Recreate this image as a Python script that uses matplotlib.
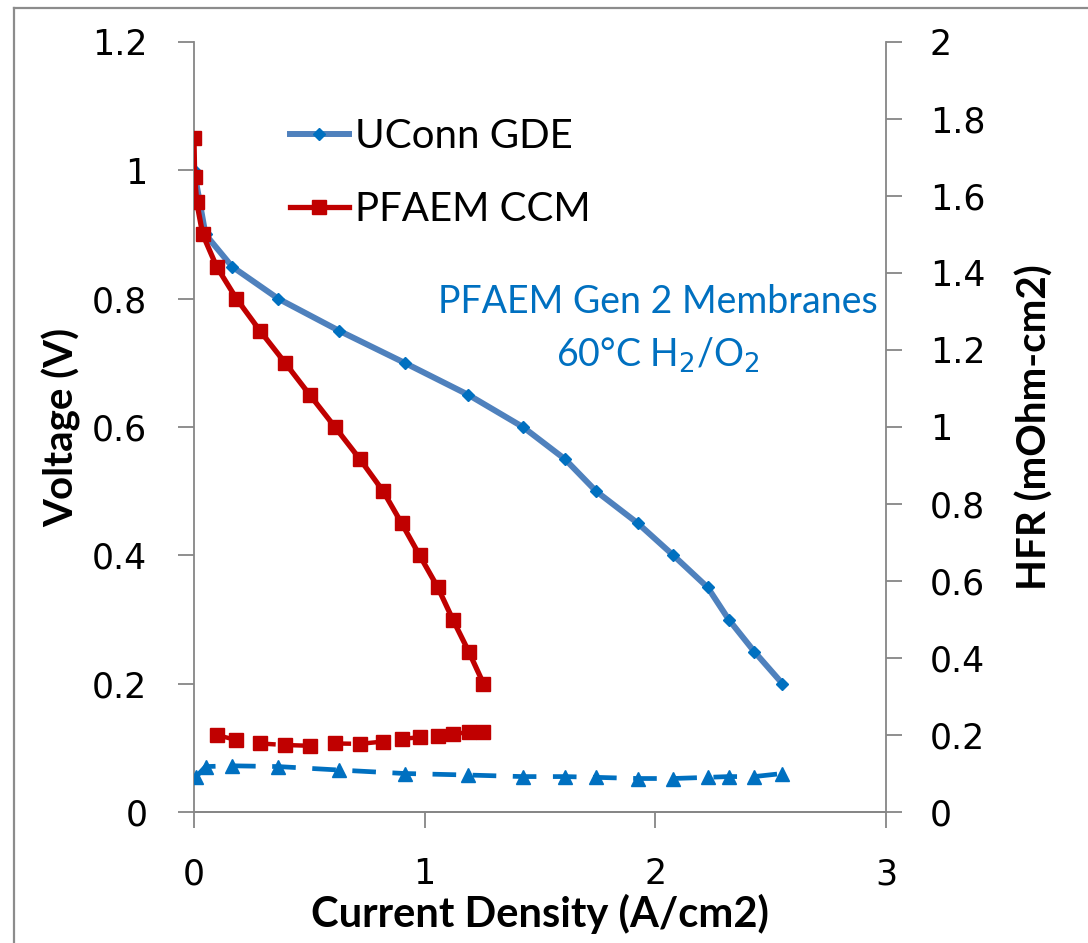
import matplotlib.pyplot as plt
from matplotlib.lines import Line2D

plt.rcParams['font.family'] = ['Lato', 'DejaVu Sans']

# polarization curves (A/cm2, V)
gde_current = [0.0, 0.05, 0.165, 0.365, 0.629, 0.913, 1.19, 1.426, 1.608, 1.743,
               1.924, 2.078, 2.227, 2.318, 2.429, 2.551]
gde_voltage = [1.0, 0.9, 0.85, 0.8, 0.75, 0.7, 0.65, 0.6, 0.55, 0.5,
               0.45, 0.4, 0.35, 0.3, 0.25, 0.2]

ccm_current = [0.0, 0.003, 0.012, 0.038, 0.098, 0.184, 0.286, 0.395, 0.502, 0.611,
               0.719, 0.82, 0.9, 0.978, 1.057, 1.122, 1.191, 1.255]
ccm_voltage = [1.05, 0.99, 0.95, 0.9, 0.85, 0.8, 0.75, 0.7, 0.65, 0.6,
               0.55, 0.5, 0.45, 0.4, 0.35, 0.3, 0.25, 0.2]

# high frequency resistance (mOhm-cm2)
gde_hfr_current = [0.01, 0.05, 0.165, 0.365, 0.629, 0.913, 1.19, 1.426, 1.608, 1.743,
                   1.924, 2.078, 2.227, 2.318, 2.429, 2.551]
gde_hfr = [0.092, 0.118, 0.12, 0.118, 0.109, 0.1, 0.096, 0.092, 0.092, 0.09,
           0.087, 0.087, 0.09, 0.092, 0.092, 0.1]

ccm_hfr_current = [0.098, 0.184, 0.286, 0.395, 0.502, 0.611, 0.719, 0.82, 0.9, 0.978,
                   1.057, 1.122, 1.191, 1.255]
ccm_hfr = [0.2, 0.187, 0.178, 0.174, 0.172, 0.178, 0.177, 0.183, 0.19, 0.194,
           0.198, 0.203, 0.207, 0.207]

blue_line = '#4F81BD'
blue_mark = '#0070C0'
red = '#C00000'
axis_grey = '#868686'

fig = plt.figure(figsize=(10.88, 9.43), dpi=100)
ax = fig.add_axes([194 / 1088, 131 / 943, 692 / 1088, 770 / 943])
ax2 = ax.twinx()

ax.plot(gde_current, gde_voltage, color=blue_line, lw=4.3, marker='D', ms=6.5,
        mfc=blue_mark, mec=blue_mark, label='UConn GDE', zorder=3)
ax.plot(ccm_current, ccm_voltage, color=red, lw=3.8, marker='s', ms=10,
        mfc=red, mec=red, label='PFAEM CCM', zorder=4)

ax2.plot(gde_hfr_current, gde_hfr, color=blue_mark, lw=3.4, ls=(0, (5, 3.5)),
         marker='^', ms=10.5, mfc=blue_mark, mec=blue_mark)
ax2.plot(ccm_hfr_current, ccm_hfr, color=red, lw=3.2, ls=(0, (5, 3.5)),
         marker='s', ms=10.5, mfc=red, mec=red)

ax.set_xlim(0, 3)
ax.set_ylim(0, 1.2)
ax2.set_ylim(0, 2)
ax.set_xticks([0, 1, 2, 3])
ax.set_xticklabels(['0', '1', '2', '3'])
ax.set_yticks([0, 0.2, 0.4, 0.6, 0.8, 1.0, 1.2])
ax.set_yticklabels(['0', '0.2', '0.4', '0.6', '0.8', '1', '1.2'])
ax2.set_yticks([0, 0.2, 0.4, 0.6, 0.8, 1.0, 1.2, 1.4, 1.6, 1.8, 2.0])
ax2.set_yticklabels(['0', '0.2', '0.4', '0.6', '0.8', '1', '1.2', '1.4', '1.6', '1.8', '2'])

for a in (ax, ax2):
    a.spines['top'].set_visible(False)
    for s in a.spines.values():
        s.set_color(axis_grey)
        s.set_linewidth(1.3)
    a.tick_params(colors=axis_grey, labelcolor='black', labelsize=25,
                  length=11.5, width=1.3, direction='out')
    for lbl in a.get_xticklabels() + a.get_yticklabels():
        lbl.set_family('DejaVu Sans')
ax2.spines['left'].set_visible(False)
ax.spines['right'].set_visible(False)
ax.tick_params(axis='x', pad=21)
ax.tick_params(axis='y', pad=22)
ax2.tick_params(axis='y', pad=20)

ax.set_xlabel('Current Density (A/cm2)', fontsize=30, fontweight='bold', labelpad=2)
ax.set_ylabel('Voltage (V)', fontsize=29, fontweight='bold', labelpad=8)
ax2.set_ylabel('HFR (mOhm-cm2)', fontsize=29, fontweight='bold', rotation=90,
               labelpad=22)

ax.text(2.01, 0.795, 'PFAEM Gen 2 Membranes', color=blue_mark, fontsize=27,
        ha='center', va='center')
ax.text(2.01, 0.712, '60°C H$_2$/O$_2$', color=blue_mark, fontsize=27,
        ha='center', va='center')

leg = ax.legend(loc='upper left', bbox_to_anchor=(270 / 1088, 1 - 98 / 943),
                bbox_transform=fig.transFigure, frameon=False, fontsize=29,
                handlelength=1.45, handletextpad=0.15, labelspacing=0.9,
                borderpad=0, numpoints=1)

# thin grey frame along the top and left edges
fig.add_artist(Line2D([14 / 1088, 14 / 1088], [0, 1 - 8 / 943], color='#8C8C8C',
                      lw=1.6, transform=fig.transFigure))
fig.add_artist(Line2D([14 / 1088, 1], [1 - 8 / 943, 1 - 8 / 943], color='#8C8C8C',
                      lw=1.6, transform=fig.transFigure))

fig.savefig('out.png', dpi=100)
